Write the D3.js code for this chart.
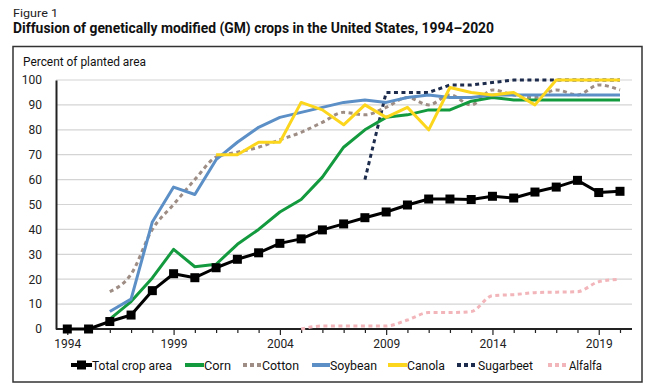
<!DOCTYPE html>
<html><head><meta charset="utf-8">
<script src="https://cdn.jsdelivr.net/npm/d3@7"></script>
<style>body{margin:0;background:#fff;}svg{display:block;font-family:"Roboto","Liberation Sans",Arial,sans-serif;}</style>
</head><body>
<svg id="c" width="650" height="390"></svg>
<script>
const years = d3.range(1994, 2021);
const totalCrop = [0,0,3,5.6,15.4,22.2,20.6,24.6,28,30.6,34.4,36.2,39.8,42.2,44.7,47,49.8,52.2,52.2,52,53.3,52.6,55,57,59.7,54.8,55.3];
const corn =    [null,null,4,11,20.5,32,25,26,34,40,47,52,61,73,80,85,86,88,88,91.5,93,92,92,92,92,92,92];
const cotton =  [null,null,15,22,40,50,60,69,71,73,76,79,83,87,86,89,93,90,94,90,96,94,93,96,94,98,96];
const soybean = [null,null,7,12,43,57,54,68,75,81,85,87,89,91,92,91,93,94,93,93,94,94,94,94,94,94,94];
const canola =  [null,null,null,null,null,null,null,70,70,75,75,91,88,82,90,85,89,80,97,95,94,95,90,100,100,100,100];
const sugarbeet=[null,null,null,null,null,null,null,null,null,null,null,null,null,null,60,95,95,95,98,98,99,100,100,100,100,100,100];
const alfalfa = [null,null,null,null,null,null,null,null,null,null,null,0,1.2,1.2,1.2,1.2,3.6,6.6,6.6,7,13.4,13.8,14.6,14.8,15,19,20];
const yTicks = [0,10,20,30,40,50,60,70,80,90,100];
const xLabelYears = [1994,1999,2004,2009,2014,2019];

const seriesDefs = [
  {name:"Total crop area", values: totalCrop, color:"#000000", dash:null, marker:true},
  {name:"Corn", values: corn, color:"#149a3e", dash:null},
  {name:"Cotton", values: cotton, color:"#9e8d84", dash:"4,3.5"},
  {name:"Soybean", values: soybean, color:"#5b8fc6", dash:null},
  {name:"Canola", values: canola, color:"#fcd61c", dash:null},
  {name:"Sugarbeet", values: sugarbeet, color:"#1d2c4c", dash:"4,3.5"},
  {name:"Alfalfa", values: alfalfa, color:"#f2b5ba", dash:"4,3.5"}
];

const svg = d3.select("#c");
const x = d3.scaleLinear().domain([1994, 2020]).range([67.3, 620]);
const y = d3.scaleLinear().domain([0, 100]).range([329, 80]);

// Titles
svg.append("text").attr("x",13).attr("y",17).attr("font-size",10.5).attr("fill","#222")
  .attr("textLength",45).attr("lengthAdjust","spacingAndGlyphs").text("Figure 1");
svg.append("text").attr("x",13).attr("y",33).attr("font-size",14.5).attr("font-weight","bold").attr("fill","#111")
  .attr("textLength",481).attr("lengthAdjust","spacingAndGlyphs")
  .text("Diffusion of genetically modified (GM) crops in the United States, 1994–2020");

// Box
svg.append("rect").attr("x",13).attr("y",46.5).attr("width",629).attr("height",335.5)
  .attr("fill","none").attr("stroke","#333").attr("stroke-width",1.5);

svg.append("text").attr("x",23).attr("y",66).attr("font-size",12).attr("fill","#111")
  .attr("textLength",123).attr("lengthAdjust","spacingAndGlyphs").text("Percent of planted area");

// gridlines
svg.append("g").selectAll("line").data(yTicks.filter(d=>d>0)).join("line")
  .attr("x1",56).attr("x2",632).attr("y1",d=>y(d)).attr("y2",d=>y(d))
  .attr("stroke","#d4d4d4").attr("stroke-width",1.2);

// y axis
const yAxis = svg.append("g").attr("transform","translate(56,0)")
  .call(d3.axisLeft(y).tickValues(yTicks).tickSize(0).tickPadding(14));
yAxis.select(".domain").attr("stroke","#222").attr("stroke-width",2);
yAxis.selectAll("text").attr("font-size",12).attr("fill","#222").attr("font-family","Roboto, Liberation Sans, sans-serif");

// x axis
const xAxis = svg.append("g").attr("transform","translate(0,329)")
  .call(d3.axisBottom(x).tickValues(years).tickSize(4).tickPadding(6).tickFormat(d=> xLabelYears.includes(d)? String(d):""));
xAxis.select(".domain").attr("stroke","#222").attr("stroke-width",2).attr("d","M56,0H632");
xAxis.selectAll(".tick line").attr("stroke","#222").attr("stroke-width",1.2)
  .attr("y2",d=> xLabelYears.includes(d)? 6 : 4);
xAxis.selectAll("text").attr("font-size",12).attr("fill","#222").attr("font-family","Roboto, Liberation Sans, sans-serif");

// lines
const line = d3.line().defined(d=>d.v!=null).x(d=>x(d.yr)).y(d=>y(d.v)).curve(d3.curveMonotoneX);
const lineStraight = d3.line().defined(d=>d.v!=null).x(d=>x(d.yr)).y(d=>y(d.v));
const drawOrder = ["Alfalfa","Sugarbeet","Cotton","Corn","Soybean","Canola","Total crop area"];
drawOrder.forEach(n=>{
  const s = seriesDefs.find(d=>d.name===n);
  const data = years.map((yr,i)=>({yr, v:s.values[i]}));
  const gen = (s.dash && n!=="Sugarbeet") ? line : lineStraight;
  svg.append("path").datum(data).attr("d",gen).attr("fill","none")
    .attr("stroke",s.color).attr("stroke-width",3)
    .attr("stroke-dasharray",s.dash).attr("stroke-linejoin","round");
  if(s.marker){
    svg.append("g").selectAll("rect").data(data.filter(d=>d.v!=null)).join("rect")
      .attr("x",d=>x(d.yr)-4.5).attr("y",d=>y(d.v)-4.5).attr("width",9).attr("height",9).attr("fill",s.color);
  }
});

// legend
const legendLine = [[71,92],[185,204],[243,262],[312,330],[388,407],[457,478],[548,568]];
const legendText = [[92,80],[204,27],[262,37],[330,47],[407,38],[478,55],[569,33]];
const lg = svg.append("g").attr("transform","translate(0,365)");
seriesDefs.forEach((s,i)=>{
  const [a,b] = legendLine[i];
  const g = lg.append("g");
  g.append("line").attr("x1",a).attr("x2",b).attr("y1",0).attr("y2",0)
    .attr("stroke",s.color).attr("stroke-width",4).attr("stroke-dasharray",s.dash? "4,3":null);
  if(s.marker) g.append("rect").attr("x",(a+b)/2-4.5).attr("y",-4.5).attr("width",9).attr("height",9).attr("fill",s.color);
  g.append("text").attr("x",legendText[i][0]).attr("y",4.5).attr("font-size",12.5).attr("fill","#111")
    .attr("textLength",legendText[i][1]).attr("lengthAdjust","spacingAndGlyphs").text(s.name);
});
</script>
</body></html>
